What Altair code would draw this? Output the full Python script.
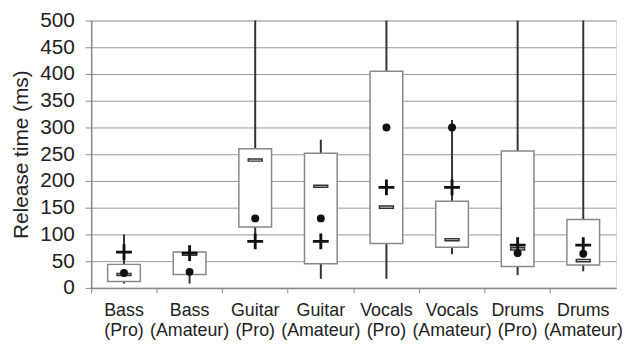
import altair as alt
import pandas as pd

categories = ["Bass (Pro)", "Bass (Amateur)", "Guitar (Pro)", "Guitar (Amateur)",
              "Vocals (Pro)", "Vocals (Amateur)", "Drums (Pro)", "Drums (Amateur)"]
whisker_low = [8, 8, 95, 17, 17, 63, 24, 31]
q1 = [12, 25, 114, 45, 83, 76, 40, 43]
median = [25, 63, 239, 190, 151, 90, 73, 51]
q3 = [44, 67, 260, 252, 405, 162, 256, 128]
whisker_high = [100, 68, 500, 277, 500, 314, 500, 500]
plus_value = [67, 65, 87, 87, 188, 188, 80, 80]
dot_value = [28, 30, 130, 130, 300, 300, 65, 64]
y_ticks = list(range(0, 501, 50))

df = pd.DataFrame({
    "cat": categories, "lo": whisker_low, "q1": q1, "med": median,
    "q3": q3, "hi": whisker_high, "plus": plus_value, "dot": dot_value,
})

FONT = "Liberation Sans"

x = alt.X("cat:N", sort=categories, title=None,
          scale=alt.Scale(paddingInner=0, paddingOuter=0),
          axis=alt.Axis(labelAngle=0, labelExpr="split(datum.label, ' ')",
                        labelFontSize=18, labelFont=FONT, labelColor="#222",
                        labelLineHeight=20, labelPadding=9, tickSize=5,
                        tickColor="#888", domainColor="#888", domainWidth=1.5,
                        bandPosition=0, grid=False, labelOverlap=False))
yscale = alt.Scale(domain=[0, 500], nice=False)
yaxis = alt.Axis(values=y_ticks, title="Release time (ms)", titleFont=FONT,
                 titleFontSize=21, titleFontWeight="normal", titleColor="#222",
                 titlePadding=8, labelFont=FONT, labelFontSize=21,
                 labelColor="#222", labelPadding=11, tickSize=6,
                 labelOverlap=False, tickColor="#888", domainColor="#888",
                 domainWidth=1.5, grid=True, gridColor="#999", gridWidth=1)


def yenc(field):
    return alt.Y(field, scale=yscale, axis=yaxis)


base = alt.Chart(df)

whisk = base.mark_rule(color="#333", strokeWidth=2).encode(
    x=x, y=yenc("lo:Q"), y2="hi:Q")
box = base.mark_bar(size=33, fill="white", stroke="#888", strokeWidth=1.5).encode(
    x=x, y=yenc("q1:Q"), y2="q3:Q")
med = base.mark_point(shape="M-1,-0.15H1V0.15H-1Z", size=196, filled=True,
                      fill="white", stroke="#333", strokeWidth=1.5, opacity=1).encode(
    x=x, y=yenc("med:Q"))
dot = base.mark_circle(size=64, color="#111", opacity=1).encode(
    x=x, y=yenc("dot:Q"))
plus = base.mark_point(
    shape="M-0.18,-1H0.18V-0.18H1V0.18H0.18V1H-0.18V0.18H-1V-0.18H-0.18Z",
    size=256, filled=True, color="#111", opacity=1).encode(
    x=x, y=yenc("plus:Q"))

chart = alt.layer(whisk, box, med, dot, plus).properties(
    width=530, height=270,
    autosize=alt.AutoSizeParams(type="none"),
    padding={"left": 84, "top": 11, "right": 6, "bottom": 54},
).configure_view(stroke="#888", strokeWidth=1.5).configure(background="white")

chart.save("out.html", embed_options={"renderer": "svg", "actions": False})
